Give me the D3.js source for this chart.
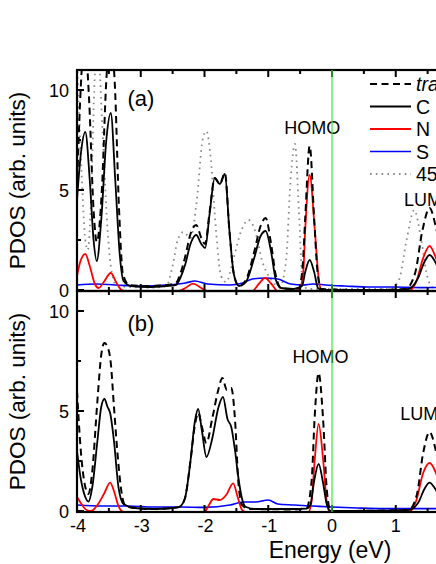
<!DOCTYPE html>
<html><head><meta charset="utf-8">
<script src="https://cdn.jsdelivr.net/npm/d3@7"></script>
<style>body{margin:0;background:#fff}svg{display:block;font-family:"Liberation Sans",Arial,sans-serif}</style>
</head><body><svg id="c" width="436" height="564"></svg>
<script>
// ---- data: energies (eV) and PDOS values ----
const aC_E=[-4,-3.94,-3.87,-3.8,-3.74,-3.69,-3.62,-3.54,-3.47,-3.4,-3.33,-3.27,-3.15,-2.9,-2.6,-2.45,-2.38,-2.3,-2.22,-2.13,-2.05,-1.99,-1.92,-1.84,-1.76,-1.68,-1.61,-1.54,-1.46,-1.35,-1.22,-1.12,-1.04,-0.96,-0.88,-0.8,-0.6,-0.47,-0.42,-0.35,-0.28,-0.22,-0.16,0,0.5,1.0,1.2,1.35,1.45,1.53,1.62,1.75,1.9,2.0];
const aC_V=[4.5,6.8,7.9,5.5,2.5,1.45,3.5,7.5,8.85,5.5,1.8,0.45,0.2,0.15,0.2,0.25,0.6,1.3,2.3,2.75,2.3,2.1,3.8,5.6,5.3,5.8,3.0,0.8,0.2,0.4,1.6,2.7,2.95,2.0,0.5,0.1,0.05,0.2,0.9,1.5,0.9,0.1,0.0,0,0,0,0.05,0.6,1.4,1.75,1.4,0.4,0.05,0];
const aT_E=[-4,-3.95,-3.88,-3.81,-3.74,-3.69,-3.61,-3.54,-3.48,-3.41,-3.34,-3.28,-3.18,-2.9,-2.6,-2.45,-2.38,-2.3,-2.22,-2.13,-2.05,-1.99,-1.92,-1.84,-1.76,-1.68,-1.61,-1.54,-1.46,-1.35,-1.22,-1.12,-1.04,-0.96,-0.88,-0.8,-0.6,-0.52,-0.46,-0.42,-0.35,-0.28,-0.23,-0.17,0.5,1.15,1.3,1.42,1.53,1.64,1.78,1.9,2.0];
const aT_V=[5,9.5,12.5,9.5,4.0,2.4,5.0,10.5,12.5,10.5,4.0,0.8,0.25,0.2,0.25,0.35,0.8,1.7,2.8,3.25,2.6,2.3,3.9,5.6,5.3,5.85,3.0,0.8,0.2,0.5,1.9,3.2,3.6,2.4,0.7,0.1,0.05,0.1,1.2,3.6,7.2,3.6,1.0,0.05,0,0.05,0.8,3.0,4.1,3.0,0.7,0.05,0];
const aN_E=[-4,-3.94,-3.87,-3.8,-3.72,-3.66,-3.58,-3.47,-3.38,-3.3,-3.2,-2.4,-2.3,-2.18,-2.05,-1.95,-1.25,-1.15,-1.05,-0.95,-0.85,-0.55,-0.5,-0.45,-0.42,-0.35,-0.27,-0.21,-0.16,1.2,1.32,1.43,1.53,1.63,1.75,1.9,2.0];
const aN_V=[0.7,1.5,1.8,1.2,0.3,0.1,0.4,0.85,0.35,0.0,-0.05,-0.05,0.1,0.32,0.1,-0.05,-0.05,0.3,0.6,0.3,-0.05,-0.05,0.1,0.9,3.0,5.75,3.0,0.6,-0.05,-0.05,0.4,1.6,2.2,1.6,0.4,-0.05,-0.05];
const aS_E=[-4,-3.7,-3.4,-3.0,-2.6,-2.3,-2.15,-1.95,-1.6,-1.4,-1.25,-1.05,-0.85,-0.65,-0.45,-0.3,-0.1,0.2,0.6,1.0,1.4,2.0];
const aS_V=[0.25,0.3,0.25,0.2,0.25,0.35,0.45,0.3,0.25,0.35,0.55,0.6,0.55,0.3,0.25,0.3,0.25,0.2,0.15,0.15,0.12,0.15];
const a45_E=[-4,-3.93,-3.87,-3.83,-3.78,-3.73,-3.68,-3.6,-3.52,-3.47,-3.39,-3.2,-2.8,-2.6,-2.5,-2.42,-2.33,-2.22,-2.12,-2.03,-1.97,-1.9,-1.82,-1.74,-1.66,-1.55,-1.42,-1.31,-1.2,-1.1,-0.95,-0.82,-0.72,-0.65,-0.58,-0.52,-0.46,-0.38,0.9,1.05,1.17,1.29,1.4,1.5,1.6,2.0];
const a45_V=[11.5,6,2.5,2.0,4.5,10,12.5,8,3,1.2,0.25,0.15,0.12,0.2,1.2,2.5,2.9,2.6,4.5,7.5,7.95,6.5,3,0.7,0.4,1.5,3.0,3.5,2.9,1.5,0.5,0.15,1.5,5.5,7.3,4,0.4,0.05,0.05,0.5,2.5,4.0,2.5,0.6,0.1,0.05];

const bC_E=[-4,-3.94,-3.87,-3.82,-3.76,-3.68,-3.62,-3.57,-3.52,-3.48,-3.42,-3.35,-3.27,-3.1,-2.8,-2.5,-2.4,-2.31,-2.22,-2.15,-2.1,-2.04,-1.97,-1.88,-1.78,-1.71,-1.64,-1.58,-1.52,-1.47,-1.41,-1.35,-1.2,-0.6,-0.4,-0.34,-0.28,-0.21,-0.14,-0.08,-0.02,0.5,1.2,1.35,1.45,1.53,1.62,1.75,1.9,2.0];
const bC_V=[3.0,1.6,0.7,0.47,1.2,3.5,5.2,5.6,5.2,4.9,3.5,1.2,0.35,0.15,0.1,0.15,0.2,0.6,2.5,4.5,5.1,4.0,2.7,3.6,5.2,5.7,4.6,4.2,3.0,1.7,0.6,0.2,0.1,0.1,0.12,0.3,1.5,2.35,1.4,0.3,0.0,0.0,0.05,0.4,1.1,1.42,1.1,0.3,0.02,0];
const bT_E=[-4,-3.94,-3.87,-3.82,-3.76,-3.68,-3.62,-3.57,-3.52,-3.47,-3.42,-3.36,-3.3,-3.25,-3.1,-2.8,-2.5,-2.4,-2.31,-2.22,-2.15,-2.1,-2.04,-1.97,-1.88,-1.78,-1.72,-1.65,-1.58,-1.52,-1.47,-1.41,-1.3,-0.6,-0.4,-0.32,-0.27,-0.21,-0.14,-0.08,-0.02,1.2,1.33,1.43,1.53,1.63,1.75,1.9,2.0];
const bT_V=[6.0,3.0,1.2,0.85,2.0,5.5,7.8,8.4,8.2,7.4,5.2,2.7,0.9,0.3,0.15,0.1,0.15,0.2,0.6,2.5,4.3,4.9,4.2,3.4,4.6,6.1,6.65,6.05,6.15,4.5,1.5,0.3,0.1,0.08,0.15,1.5,4.8,6.9,4.6,1.0,0.0,0.05,0.8,2.9,3.95,3.0,0.9,0.1,0];
const bN_E=[-4,-3.93,-3.85,-3.78,-3.68,-3.57,-3.48,-3.42,-3.35,-3.27,-2.0,-1.93,-1.86,-1.76,-1.66,-1.55,-1.48,-1.41,-1.35,-0.37,-0.32,-0.27,-0.21,-0.14,-0.08,-0.03,1.2,1.32,1.43,1.53,1.63,1.75,1.9,2.0];
const bN_V=[0.7,0.35,0.05,0.0,0.3,0.9,1.42,1.0,0.25,-0.05,-0.05,0.3,0.6,0.55,0.8,1.38,0.7,0.05,-0.05,-0.05,0.5,2.6,4.35,2.6,0.4,-0.05,-0.05,0.5,1.9,2.4,1.9,0.5,-0.05,-0.05];
const bS_E=[-4,-3.6,-3.2,-2.8,-2.4,-2.0,-1.6,-1.4,-1.2,-1.0,-0.85,-0.6,-0.3,0,0.4,0.8,1.2,1.6,2.0];
const bS_V=[0.3,0.25,0.25,0.2,0.2,0.18,0.3,0.45,0.45,0.55,0.35,0.3,0.25,0.2,0.15,0.12,0.12,0.12,0.12];

const xTicks=[-4,-3,-2,-1,0,1];
const yTicks=[0,5,10];
const legendLabels=["trans","C","N","S","45°"];
const panelLabels=["(a)","(b)"];

// ---- drawing ----
const svg=d3.select("#c");
const x=d3.scaleLinear().domain([-4,2]).range([77,459.5]);
const panels=[
 {y:d3.scaleLinear().domain([-0.05,11.0]).range([291,70]),top:70,bot:291,
  series:[[a45_E,a45_V,"a45"],[aS_E,aS_V,"S"],[aN_E,aN_V,"N"],[aC_E,aC_V,"C"],[aT_E,aT_V,"T"]],
  label:panelLabels[0],homo:[-0.31,127],lumo:[1.13,199]},
 {y:d3.scaleLinear().domain([-0.05,11.0]).range([512,291]),top:291,bot:512,
  series:[[bS_E,bS_V,"S"],[bN_E,bN_V,"N"],[bC_E,bC_V,"C"],[bT_E,bT_V,"T"]],
  label:panelLabels[1],homo:[-0.18,356],lumo:[1.07,413]}
];
const style={
 T:{stroke:"#000",w:2,dash:"7,4.5"},
 C:{stroke:"#000",w:1.8,dash:null},
 N:{stroke:"#ff0000",w:1.8,dash:null},
 S:{stroke:"#0000ff",w:1.6,dash:null},
 a45:{stroke:"#8a8a8a",w:1.8,dash:"1.6,4.2"}
};
const defs=svg.append("defs");
panels.forEach((p,i)=>{
  defs.append("clipPath").attr("id","clip"+i).append("rect")
    .attr("x",77).attr("y",p.top).attr("width",459.5-77).attr("height",p.bot-p.top);
  const g=svg.append("g").attr("clip-path",`url(#clip${i})`);
  p.series.forEach(([E,V,k])=>{
    const pts=E.map((e,j)=>[e,V[j]]);
    const st=style[k];
    g.append("path").datum(pts)
      .attr("d",d3.line().x(d=>x(d[0])).y(d=>p.y(d[1])).curve(d3.curveMonotoneX))
      .attr("fill","none").attr("stroke",st.stroke).attr("stroke-width",st.w)
      .attr("stroke-dasharray",st.dash).attr("stroke-linejoin","round");
  });
  svg.append("rect").attr("x",77).attr("y",p.top).attr("width",459.5-77).attr("height",p.bot-p.top)
    .attr("fill","none").attr("stroke","#000").attr("stroke-width",2.2);
  const minorX=d3.range(-3.5,2.01,1);
  [[p.bot,-1],[p.top,1]].forEach(([yy,dir])=>{
    xTicks.forEach(t=>svg.append("line").attr("x1",x(t)).attr("x2",x(t)).attr("y1",yy).attr("y2",yy+dir*7).attr("stroke","#000").attr("stroke-width",2));
    minorX.forEach(t=>svg.append("line").attr("x1",x(t)).attr("x2",x(t)).attr("y1",yy).attr("y2",yy+dir*4).attr("stroke","#000").attr("stroke-width",2));
  });
  yTicks.forEach(t=>{
    svg.append("line").attr("x1",77).attr("x2",84).attr("y1",p.y(t)).attr("y2",p.y(t)).attr("stroke","#000").attr("stroke-width",2);
    svg.append("text").attr("x",69).attr("y",p.y(t)+6.5).attr("text-anchor","end").attr("font-size",18).text(t);
  });
  [2.5,7.5].forEach(t=>svg.append("line").attr("x1",77).attr("x2",81).attr("y1",p.y(t)).attr("y2",p.y(t)).attr("stroke","#000").attr("stroke-width",2));
  svg.append("text").attr("transform",`translate(25,${(p.top+p.bot)/2}) rotate(-90)`)
    .attr("text-anchor","middle").attr("font-size",22.5).text("PDOS (arb. units)");
  svg.append("text").attr("x",141).attr("y",p.top+(i?40:36)).attr("text-anchor","middle").attr("font-size",22).text(p.label);
  svg.append("text").attr("x",x(p.homo[0])).attr("y",p.homo[1]+6.5).attr("text-anchor","middle").attr("font-size",18).text("HOMO");
  svg.append("text").attr("x",x(p.lumo[0])).attr("y",p.lumo[1]+6.5).attr("text-anchor","start").attr("font-size",18).text("LUMO");
});
svg.append("line").attr("x1",x(0)).attr("x2",x(0)).attr("y1",70).attr("y2",512).attr("stroke","#33ee33").attr("stroke-width",1.2);
xTicks.forEach(t=>svg.append("text").attr("x",x(t)+(t<0?1:0)).attr("y",532).attr("text-anchor","middle").attr("font-size",18).text(t));
svg.append("text").attr("x",330).attr("y",558).attr("text-anchor","middle").attr("font-size",23).text("Energy (eV)");
const legKeys=["T","C","N","S","a45"];
legKeys.forEach((k,j)=>{
  const yy=84+j*22.5, st=style[k];
  svg.append("line").attr("x1",370).attr("x2",411).attr("y1",yy).attr("y2",yy)
    .attr("stroke",st.stroke).attr("stroke-width",st.w).attr("stroke-dasharray",st.dash);
  svg.append("text").attr("x",416).attr("y",yy+7).attr("font-size",19.5)
    .attr("font-style",k==="T"?"italic":null).text(legendLabels[j]);
});
</script></body></html>
